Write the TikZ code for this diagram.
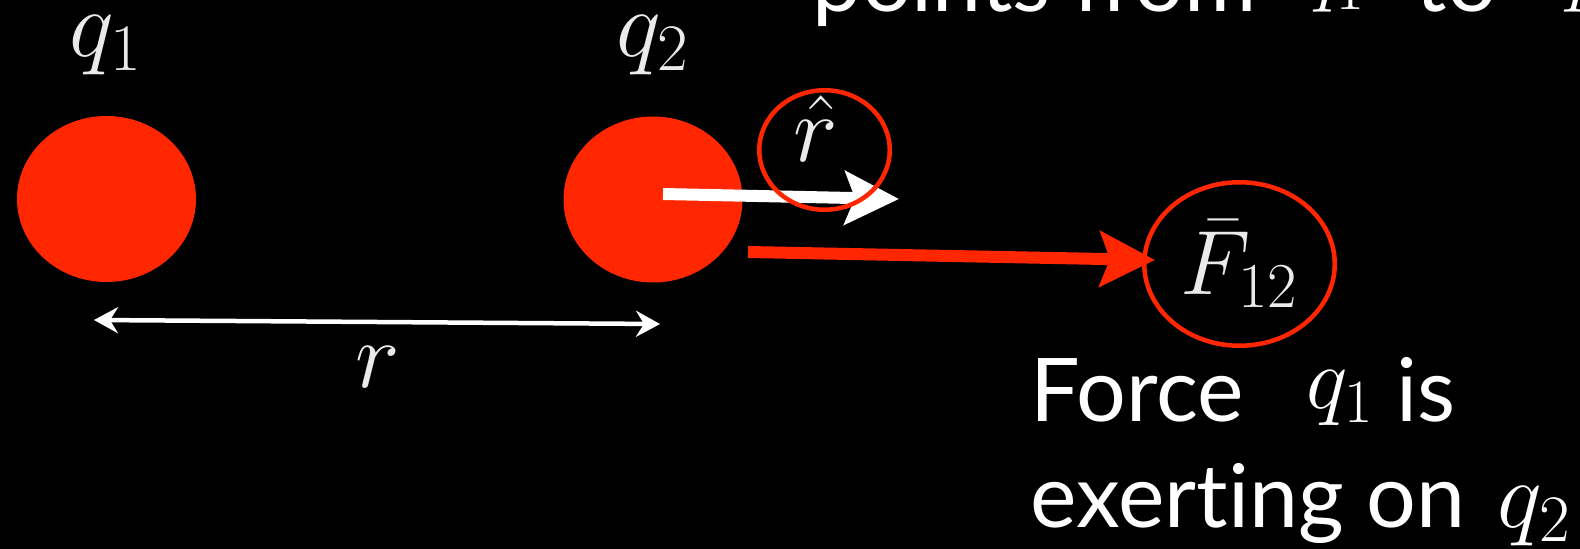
\RequirePackage{fix-cm}
\documentclass[tikz,border=0pt]{standalone}
\usepackage[no-math]{fontspec}
\setmainfont{Lato}[Ligatures=NoCommon]
\usepackage{xcolor}
\usepackage{tikz}
\usetikzlibrary{arrows.meta, positioning, shapes.geometric}
\definecolor{chargered}{RGB}{255,38,0}
\definecolor{labelgray}{RGB}{234,234,234}

\begin{document}
\begin{tikzpicture}[
        charge/.style={ellipse, fill=chargered, minimum width=1.79cm, minimum height=1.66cm, inner sep=0pt},
        ring/.style={ellipse, draw=chargered, line width=0.045cm, inner sep=0pt, text=labelgray, font=\fontsize{26}{30}\selectfont},
        mathlabel/.style={text=labelgray, inner sep=0pt, font=\fontsize{27}{30}\selectfont},
        words/.style={text=white, inner sep=0pt, align=left, font=\fontsize{25}{29.9}\selectfont},
        unitarrow/.style={-{Stealth[length=0.54cm, width=0.53cm, inset=0.1cm]}, line width=0.12cm, white},
        forcearrow/.style={-{Stealth[length=0.55cm, width=0.55cm, inset=0.1cm]}, line width=0.12cm, chargered},
        distarrow/.style={{Stealth[length=0.24cm, width=0.26cm, inset=0.08cm]}-{Stealth[length=0.24cm, width=0.26cm, inset=0.08cm]}, line width=0.045cm, white}
    ]
        % Background
        \path[use as bounding box, fill=black] (0, 0) rectangle (15.80, -5.49);

        % Charges
        \node[charge] (q1) at (1.065, -1.99) {};
        \node[charge] (q2) at (6.53, -1.995) {};
        \node[mathlabel, above=0.40cm of q1] (q1label) {$q_1$};
        \node[mathlabel, above=0.40cm of q2] (q2label) {$q_2$};

        % Separation
        \coordinate (rleft) at (0.94, -3.20);
        \coordinate (rright) at (6.60, -3.24);
        \draw[distarrow] (rleft) -- (rright);
        \node[mathlabel, anchor=base] (rlabel) at (3.78, -3.87) {$r$};

        % Unit vector
        \coordinate (rtip) at (8.99, -1.99);
        \draw[unitarrow] ([shift={(0.10, 0.055)}]q2.center) -- (rtip);
        \node[ring, minimum width=1.305cm, minimum height=1.195cm] (rhatring) at (8.245, -1.50) {};
        \node[mathlabel, anchor=base] (rhat) at (8.16, -1.62) {$\hat{r}$};

        % Force
        \node[ring, minimum width=1.905cm, minimum height=1.635cm] (F12) at (12.395, -2.64) {$\bar{F}_{12}$};
        \draw[forcearrow] ([shift={(0.95, -0.525)}]q2.center) -- ([shift={(0.13, 0.04)}]F12.west);

        % Texts
        \node[words, anchor=base west] (direction) at (8.12, -0.12) {points from\hspace{0.45cm}\raisebox{0.15cm}{\fontsize{23}{26}\selectfont$q_1$}\hspace{0.5cm}to\hspace{0.55cm}\raisebox{0.15cm}{\fontsize{23}{26}\selectfont$q_2$}};
        \node[words, anchor=base west] (forcetext) at (10.30, -5.27) {Force\hspace{0.62cm}\raisebox{0.13cm}{\fontsize{25}{29}\selectfont$q_1$} is\\exerting on\hspace{0.1cm} {\fontsize{27}{30}\selectfont$q_2$}};
    \end{tikzpicture}
\end{document}
